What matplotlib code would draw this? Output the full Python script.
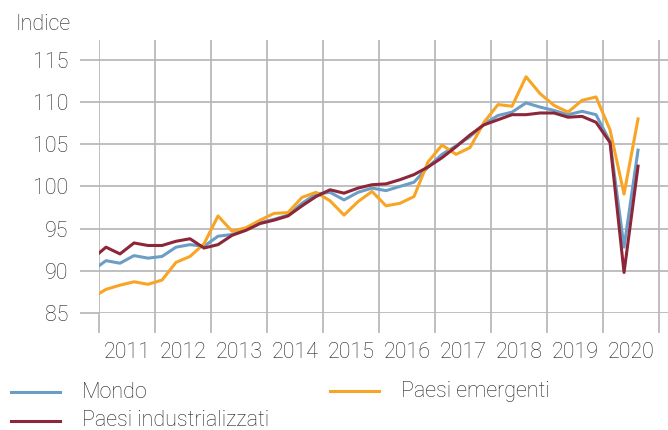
import matplotlib.pyplot as plt
from matplotlib.lines import Line2D
from matplotlib.ticker import FixedLocator, NullFormatter
import numpy as np

plt.rcParams['font.family'] = ['Roboto', 'DejaVu Sans']

# Trimestri: da T4 2010 a T3 2020 (posizione = metà trimestre)
quarters = [(2010, 4)] + [(y, q) for y in range(2011, 2021) for q in range(1, 5)][:-1]
x = np.array([y + (q - 0.5) / 4 for y, q in quarters])

mondo = [90.0,
         91.2, 90.9, 91.8, 91.5,
         91.7, 92.8, 93.1, 92.9,
         94.1, 94.3, 94.9, 95.7,
         96.1, 96.6, 98.0, 99.1,
         99.3, 98.4, 99.3, 99.8,
         99.5, 100.0, 100.5, 102.3,
         103.8, 104.8, 105.9, 107.4,
         108.4, 108.8, 109.9, 109.4,
         109.0, 108.5, 108.9, 108.5,
         105.3, 92.8, 104.3]

emergenti = [86.8,
             87.8, 88.3, 88.7, 88.4,
             88.9, 91.0, 91.7, 93.2,
             96.5, 94.7, 95.1, 96.0,
             96.8, 96.9, 98.7, 99.3,
             98.3, 96.6, 98.2, 99.4,
             97.7, 98.0, 98.8, 102.9,
             104.9, 103.8, 104.6, 107.6,
             109.7, 109.5, 113.0, 111.0,
             109.6, 108.8, 110.2, 110.6,
             106.7, 99.1, 108.0]

industrializzati = [91.4,
                    92.8, 92.0, 93.3, 93.0,
                    93.0, 93.5, 93.8, 92.7,
                    93.1, 94.2, 94.8, 95.6,
                    96.0, 96.5, 97.7, 98.8,
                    99.6, 99.2, 99.8, 100.2,
                    100.3, 100.8, 101.4, 102.3,
                    103.4, 104.7, 106.1, 107.3,
                    107.9, 108.5, 108.5, 108.7,
                    108.7, 108.2, 108.3, 107.6,
                    105.2, 89.8, 102.4]

years = list(range(2011, 2021))
yticks = [85, 90, 95, 100, 105, 110, 115]

c_mondo = '#6b9ec6'
c_emer = '#f8a526'
c_ind = '#8c2638'
c_grid = '#b4b4b4'
c_text = '#222222'

fig = plt.figure(figsize=(6.68, 4.30), dpi=100)
ax = fig.add_axes([99 / 668, 1 - 313 / 430, 1 - 99 / 668, (313 - 40) / 430])

ax.plot(x, mondo, color=c_mondo, lw=2.2, zorder=3)
ax.plot(x, emergenti, color=c_emer, lw=2.2, zorder=4)
ax.plot(x, industrializzati, color=c_ind, lw=2.2, zorder=5)

ax.set_xlim(2011, 2021.16)
ax.set_ylim(85, 117.35)

for s in ax.spines.values():
    s.set_visible(False)

ax.set_yticks(yticks)
ax.set_yticklabels([str(v) for v in yticks])
ax.xaxis.set_major_locator(FixedLocator(years + [2021]))
ax.xaxis.set_major_formatter(NullFormatter())
ax.xaxis.set_minor_locator(FixedLocator([y + 0.5 for y in years]))
ax.set_xticklabels([str(y) for y in years], minor=True)

ax.grid(True, which='major', color=c_grid, lw=1.2, zorder=1)
ax.tick_params(axis='y', length=14, width=1.2, color=c_grid, pad=8,
               labelsize=15.5, labelcolor=c_text)
ax.tick_params(axis='x', which='major', length=14.5, width=1.2, color=c_grid)
ax.tick_params(axis='x', which='minor', length=0, pad=21,
               labelsize=15.5, labelcolor=c_text)
for lab in ax.get_yticklabels() + ax.get_xticklabels(minor=True):
    lab.set_fontweight('light')

fig.text(15 / 668, 1 - 25 / 430, 'Indice', fontsize=15.5, color=c_text,
         fontweight='light', va='center', ha='left')

# Legenda
def legend_item(x0, y0, color, label):
    fig.add_artist(Line2D([x0 / 668, (x0 + 49) / 668], [1 - y0 / 430] * 2,
                          color=color, lw=2.2))
    fig.text((x0 + 71) / 668, 1 - y0 / 430, label, fontsize=15.5,
             color=c_text, fontweight='light', va='center', ha='left')

legend_item(11, 392, c_mondo, 'Mondo')
legend_item(330, 391, c_emer, 'Paesi emergenti')
legend_item(11, 421, c_ind, 'Paesi industrializzati')

fig.savefig('out.png', dpi=100)
